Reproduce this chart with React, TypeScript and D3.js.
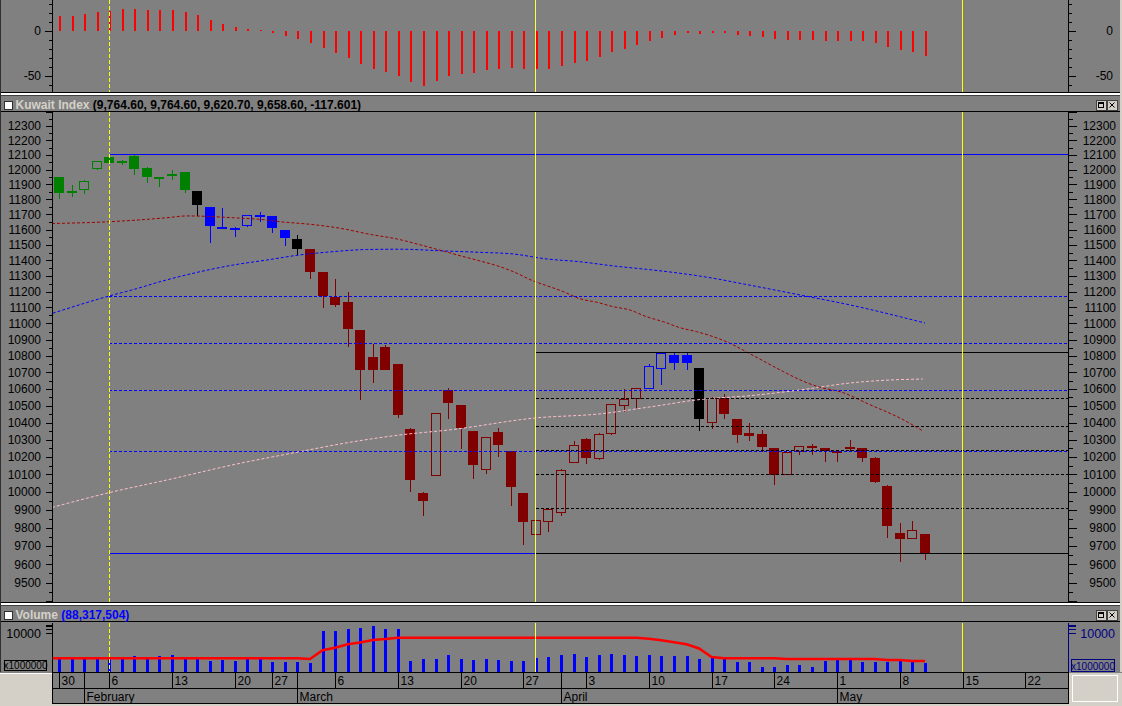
import React from "react";
import * as d3 from "d3";

// ---------- DATA ----------
const opens = [11948, 11850, 11863, 12002, 12084, 12043, 12093, 12011, 11944, 11967,
  11984, 11856, 11747, 11616, 11611, 11622, 11697, 11688, 11595, 11539,
  11474, 11327, 11168, 11133, 10960, 10792, 10855, 10751, 10364, 9996,
  10091, 10591, 10503, 10352, 10126, 10346, 10232, 9994, 9760, 9832,
  9882, 10166, 10306, 10187, 10333, 10501, 10538, 10601, 10723, 10806,
  10806, 10725, 10397, 10548, 10422, 10340, 10334, 10250, 10099, 10228,
  10266, 10250, 10228, 10258, 10250, 10193, 10035, 9772, 9737, 9764.6];
const highs = [11950, 11896, 11930, 12062, 12093, 12066, 12105, 12018, 11952, 11998,
  11986, 11858, 11750, 11743, 11614, 11696, 11714, 11690, 11600, 11563,
  11476, 11327, 11282, 11196, 10962, 10872, 10866, 10752, 10366, 9998,
  10458, 10605, 10505, 10354, 10318, 10370, 10234, 9996, 9845, 9906,
  10133, 10295, 10308, 10338, 10510, 10599, 10606, 10751, 10820, 10823,
  10823, 10727, 10550, 10568, 10424, 10399, 10357, 10252, 10228, 10263,
  10276, 10252, 10238, 10301, 10252, 10201, 10037, 9825, 9836, 9764.6];
const lows = [11800, 11814, 11834, 12000, 12040, 12030, 11966, 11912, 11885, 11930,
  11845, 11690, 11515, 11614, 11554, 11620, 11652, 11580, 11493, 11437,
  11282, 11099, 11100, 10857, 10534, 10636, 10712, 10427, 9998, 9863,
  10089, 10424, 10244, 10072, 10103, 10198, 9923, 9703, 9758, 9774,
  9863, 10164, 10162, 10184, 10330, 10462, 10486, 10599, 10623, 10713,
  10713, 10354, 10365, 10422, 10280, 10291, 10226, 10037, 10095, 10212,
  10210, 10170, 10170, 10232, 10173, 10052, 9742, 9612, 9735, 9620.7];
const closes = [11845, 11855, 11921, 12059, 12043, 12059, 12007, 11952, 11947, 11970,
  11865, 11762, 11626, 11618, 11613, 11694, 11699, 11609, 11547, 11474,
  11327, 11172, 11118, 10968, 10714, 10714, 10714, 10446, 10066, 9947,
  10456, 10517, 10366, 10152, 10316, 10268, 10027, 9830, 9843, 9904,
  10126, 10270, 10193, 10333, 10508, 10542, 10604, 10739, 10817, 10760,
  10760, 10424, 10548, 10453, 10330, 10324, 10256, 10099, 10226, 10261,
  10250, 10236, 10234, 10260, 10195, 10058, 9810, 9735, 9787, 9658.6];
const colorKeys = [
  "g", "g", "g", "g", "g", "g", "g", "g", "g", "g", "g", "k",
  "b", "b", "b", "b", "b", "b", "b", "k",
  "r", "r", "r", "r", "r", "r", "r", "r", "r", "r", "r", "r", "r", "r",
  "r", "r", "r", "r", "r", "r", "r", "r", "r", "r", "r", "r", "r",
  "b", "b", "b", "b", "k",
  "r", "r", "r", "r", "r", "r", "r", "r", "r", "r", "r", "r", "r", "r", "r", "r", "r", "r"];
const lastChange = "-117.601";

// moving averages on price (bar position, value)
const maRedBars = [-0.56, 4.06, 8.58, 10.18, 13.86, 16.55, 17.6, 20, 22.39, 24.78, 26.9, 29.03, 30.62, 31.95, 33.55, 34.88, 36.2, 37.79, 38.86, 40.18, 41.51, 42.84, 44.17, 45.5, 46.83, 48.15, 49.48, 50.81, 52.14, 53.47, 55.06, 57.71, 59.04, 60.64, 62.23, 64.62, 67.01, 68.82];
const maRedVals = [11640, 11652, 11678, 11690, 11678, 11663, 11652, 11635, 11609, 11569, 11539, 11495, 11460, 11430, 11396, 11366, 11327, 11268, 11238, 11200, 11155, 11133, 11105, 11084, 11042, 11011, 10974, 10949, 10918, 10877, 10813, 10705, 10655, 10610, 10584, 10506, 10427, 10352];
const maBlueBars = [-0.5, 3.98, 6.19, 8.05, 11.24, 13.89, 16.55, 19.2, 21.83, 24.5, 27.17, 30.9, 33.55, 36.2, 38.86, 41.51, 44.17, 46.83, 49.48, 52.14, 54.26, 59.04, 63.03, 69];
const maBlueVals = [11064, 11172, 11219, 11263, 11327, 11370, 11402, 11435, 11456, 11470, 11472, 11460, 11452, 11441, 11409, 11391, 11364, 11342, 11317, 11285, 11253, 11179, 11116, 11003];
const maPinkBars = [-0.56, 3.98, 9.08, 13.86, 19.2, 21.83, 27.17, 31.16, 38.01, 43.11, 47.09, 51.08, 55.06, 59.04, 63.03, 66.22, 68.82];
const maPinkVals = [9913, 9996, 10076, 10155, 10231, 10268, 10328, 10358, 10428, 10452, 10493, 10537, 10560, 10594, 10636, 10654, 10660];

// Fibonacci tools
const blueFibStartBar = 4;
const blueFibHigh = 12105;
const blueFibLow = 9658.6;
const blueFibRatios = [0.382, 0.5, 0.618, 0.764];
const blackFibStartBar = 38;
const blackFibHigh = 10823;
const blackFibLow = 9658.6;
const blackFibRatios = [0.236, 0.382, 0.5, 0.618, 0.786];

// oscillator (top panel)
const oscVals = [16.3, 16.3, 18.6, 20.4, 21.5, 24.1, 24.1, 23, 23, 23,
  20.8, 17.4, 11.9, 7.4, 4.1, 1.9, 0.8, -2.6, -5.9, -9.2,
  -13.3, -19.2, -24.8, -30.3, -37, -42.6, -45.9, -50.3, -57, -61.4,
  -55.9, -50.3, -48.1, -47, -43.7, -42.6, -41.4, -42.6, -42, -42.6,
  -38.5, -35.2, -32.9, -28.5, -24, -20.7, -16.3, -11.8, -8.5, -5.2,
  -2.9, -4, -2.9, -2.9, -5.2, -6.3, -7.4, -9.6, -10.7, -10.7,
  -10.7, -11.8, -11.8, -11.8, -11.8, -14, -18.5, -21.8, -24, -27.4];
const oscTicks = [30, 20, 10, 0, -10, -20, -30, -40, -50, -60];
const oscLabels = ["0", "-50"];

// volume (millions)
const volumes = [160, 160, 160, 160, 160, 160, 259, 160, 259, 289,
  160, 160, 121, 136, 121, 160, 160, 94, 94, 103,
  80, 15200, 15200, 19050, 22360, 30870, 19050, 19050, 121, 167,
  167, 289, 167, 136, 167, 136, 121, 121, 178, 210,
  289, 357, 210, 289, 357, 289, 259, 289, 259, 259,
  259, 152, 178, 152, 98, 98, 42, 42, 58, 58,
  42, 116, 136, 136, 98, 98, 98, 116, 116, 88.317504];
const volumeMA = [178.5, 178.5, 178.5, 178.5, 178.5, 178.5, 178.5, 178.5, 178.5, 178.5,
  178.5, 178.5, 178.5, 178.5, 178.5, 178.5, 178.5, 178.5, 178.5, 178.5,
  159.5, 648, 984, 1702, 2274, 3400, 3995, 4923, 4923, 4923,
  4923, 4923, 4923, 4923, 4923, 4923, 4923, 4923, 4923, 4923,
  4923, 4923, 4923, 4923, 4923, 4923, 4923, 4125, 3240, 2348,
  1702, 865, 220, 178.5, 178.5, 178.5, 178.5, 178.5, 159.5, 159.5,
  159.5, 159.5, 159.5, 159.5, 159.5, 159.5, 135.8, 135.8, 115.6, 115.6];
const volTicks = [10000, 20000, 30000, 40000];

// x axis
const dayTickBars = [0, 2, 4, 9, 14, 17, 19, 22, 27, 32, 37, 40, 42, 47, 52, 57, 62, 67, 72, 77];
const dayTickLabels = ["30", "", "6", "13", "20", "27", "", "6", "13", "20", "27", "", "3", "10", "17", "24", "1", "8", "15", "22"];
const monthBars = [2, 19, 40, 62];
const monthLabels = ["February", "March", "April", "May"];

// vertical marker lines (bar positions)
const dashedMarkerBar = 4;
const lightMarkerBar = 38;
const yellowMarkerBar = 72;

// ---------- LAYOUT ----------
const W = 1122, H = 706;
const L = 52.5, R = 1068.5;
const OSC = { top: 0, bottom: 92 };
const MAIN = { top: 112, bottom: 602 };
const VOL = { top: 623, bottom: 672 };
const FONT = "'Liberation Sans', Arial, Helvetica, sans-serif";
const BG = "#808080";
const palette: Record<string, string> = { g: "#008000", b: "#0000ff", k: "#000000", r: "#800000" };

function Header({ top, title, value, valueColor }: { top: number; title: string; value: string; valueColor: string }) {
  return (
    <g>
      <rect x={0} y={top - 4} width={W} height={1} fill="#000" />
      <rect x={0} y={top - 3} width={W} height={2} fill="#ffffff" />
      <rect x={0} y={top - 1} width={W} height={1} fill="#404040" />
      <rect x={1} y={top} width={W - 3} height={15} fill={BG} />
      <rect x={0} y={top + 15} width={W} height={1} fill="#000" />
      <rect x={4.5} y={top + 5.5} width={8} height={8} fill="#fff" stroke="#303030" />
      <text x={15.5} y={top + 13} fontSize={12} fontWeight="bold" fontFamily={FONT}>
        <tspan fill="#d4d0c8">{title}</tspan>
        <tspan fill={valueColor}>{" " + value}</tspan>
      </text>
      <g shapeRendering="crispEdges">
        <rect x={1096} y={top + 4} width={10} height={10} fill="#d4d0c8" stroke="#404040" />
        <rect x={1098.5} y={top + 6.5} width={5} height={5} fill="none" stroke="#000" />
        <rect x={1098} y={top + 6} width={6} height={2} fill="#000" />
        <rect x={1107} y={top + 4} width={10} height={10} fill="#d4d0c8" stroke="#404040" />
      </g>
      <line x1={1109.5} y1={top + 6.5} x2={1114.5} y2={top + 11.5} stroke="#000" />
      <line x1={1114.5} y1={top + 6.5} x2={1109.5} y2={top + 11.5} stroke="#000" />
    </g>
  );
}

export default function App() {
  const x = d3.scaleLinear().domain([0, 69]).range([59, 925]);
  const yM = d3.scaleLog().domain([9500, 12300]).range([582.7, 126]);
  const yO = d3.scaleLinear().domain([0, -50]).range([30.7, 76]);
  const yV = d3.scaleLog().domain([19.7, 10000]).range([672, 633.3]);
  const px = (i: number) => Math.round(x(i)) + 0.5;
  const mx = (i: number) => Math.floor(x(i)) + 0.5;

  const fmt2 = d3.format(",.2f");
  const n = closes.length - 1;
  const headerValue = `(${fmt2(opens[n])}, ${fmt2(highs[n])}, ${fmt2(lows[n])}, ${fmt2(closes[n])}, ${lastChange})`;
  const volValue = `(${d3.format(",")(Math.round(volumes[n] * 1e6))})`;

  const maLine = d3.line<[number, number]>().x((d) => x(d[0])).y((d) => yM(d[1])).curve(d3.curveMonotoneX);
  const redPath = maLine(maRedBars.map((b, i) => [b, maRedVals[i]]) as [number, number][]) || "";
  const bluePath = maLine(maBlueBars.map((b, i) => [b, maBlueVals[i]]) as [number, number][]) || "";
  const pinkPath = maLine(maPinkBars.map((b, i) => [b, maPinkVals[i]]) as [number, number][]) || "";

  const volLine = d3.line<[number, number]>().x((d) => d[0]).y((d) => yV(d[1]));
  const volPts: [number, number][] = [[L, volumeMA[0]], ...volumeMA.map((v, i) => [x(i), v] as [number, number])];
  const volPath = volLine(volPts) || "";

  const mainTicks = d3.range(9400, 12401, 50);
  const mainLabels = d3.range(9500, 12301, 100);

  const candles = opens.map((o, i) => {
    const c = closes[i];
    const col = palette[colorKeys[i]];
    const cx = Math.round(x(i));
    const yOpen = yM(o), yClose = yM(c), yHi = Math.round(yM(highs[i])), yLo = Math.round(yM(lows[i]));
    const top = Math.round(Math.min(yOpen, yClose));
    const bot = Math.round(Math.max(yOpen, yClose));
    const bh = Math.max(1, bot - top);
    if (c > o) {
      return (
        <g key={i}>
          <line x1={cx + 0.5} x2={cx + 0.5} y1={yHi} y2={top} stroke={col} />
          <line x1={cx + 0.5} x2={cx + 0.5} y1={top + bh} y2={yLo} stroke={col} />
          <rect x={cx - 4.5} y={top + 0.5} width={9} height={Math.max(0.5, bh - 1)} fill="none" stroke={col} />
        </g>
      );
    }
    return (
      <g key={i}>
        <line x1={cx + 0.5} x2={cx + 0.5} y1={yHi} y2={yLo} stroke={col} />
        <rect x={cx - 5} y={top} width={10} height={bh} fill={col} />
      </g>
    );
  });

  const vMarkers = (y1: number, y2: number) => (
    <g>
      <line x1={mx(dashedMarkerBar)} x2={mx(dashedMarkerBar)} y1={y1} y2={y2} stroke="#ffff00" strokeDasharray="4,2" />
      <line x1={mx(lightMarkerBar)} x2={mx(lightMarkerBar)} y1={y1} y2={y2} stroke="#ffff40" />
      <line x1={mx(yellowMarkerBar)} x2={mx(yellowMarkerBar)} y1={y1} y2={y2} stroke="#ffff00" />
    </g>
  );

  return (
    <svg width={W} height={H} style={{ position: "absolute", left: 0, top: 0, display: "block" }} fontFamily={FONT}>
      <defs>
        <clipPath id="clipMain"><rect x={L + 0.5} y={MAIN.top} width={R - L - 1} height={MAIN.bottom - MAIN.top} /></clipPath>
        <clipPath id="clipVol"><rect x={L + 0.5} y={VOL.top} width={R - L - 1} height={VOL.bottom - VOL.top} /></clipPath>
        <clipPath id="clipOsc"><rect x={L + 0.5} y={OSC.top} width={R - L - 1} height={OSC.bottom - OSC.top} /></clipPath>
      </defs>
      <rect x={0} y={0} width={W} height={H} fill={BG} />

      {/* ---------- OSCILLATOR PANEL ---------- */}
      <g clipPath="url(#clipOsc)" shapeRendering="crispEdges">
        {oscVals.map((v, i) => {
          const y0 = yO(0), y1 = yO(v);
          return <rect key={i} x={Math.round(x(i))} y={Math.min(y0, y1)} width={2} height={Math.max(1, Math.abs(y1 - y0))} fill="#ff0000" />;
        })}
        {vMarkers(OSC.top, OSC.bottom)}
      </g>
      <g shapeRendering="crispEdges" stroke="#000">
        <line x1={L} x2={L} y1={OSC.top} y2={OSC.bottom} />
        <line x1={R} x2={R} y1={OSC.top} y2={OSC.bottom} />
        {oscTicks.map((t) => {
          const y = Math.round(yO(t)) + 0.5;
          const major = t % 50 === 0;
          return (
            <g key={t}>
              <line x1={major ? 45 : 49} x2={L} y1={y} y2={y} />
              <line x1={R} x2={major ? 1076 : 1072} y1={y} y2={y} />
            </g>
          );
        })}
      </g>
      {oscLabels.map((t) => (
        <g key={t} fontSize={12} fill="#000">
          <text x={41} y={yO(+t)} dy="0.36em" textAnchor="end">{t}</text>
          <text x={1113} y={yO(+t)} dy="0.36em" textAnchor="end">{t}</text>
        </g>
      ))}

      {/* ---------- MAIN HEADER ---------- */}
      <Header top={96} title="Kuwait Index" value={headerValue} valueColor="#000000" />

      {/* ---------- MAIN PANEL ---------- */}
      <g clipPath="url(#clipMain)">
        <g shapeRendering="crispEdges">{candles}</g>
        <path d={pinkPath} fill="none" stroke="#ffc0cb" strokeDasharray="3,2" />
        <path d={bluePath} fill="none" stroke="#0000ff" strokeDasharray="3,2" />
        <path d={redPath} fill="none" stroke="#a00000" strokeDasharray="3,2" />
        <g shapeRendering="crispEdges">
          {blueFibRatios.map((r) => {
            const y = Math.round(yM(blueFibHigh - r * (blueFibHigh - blueFibLow))) + 0.5;
            return <line key={"bf" + r} x1={x(blueFibStartBar)} x2={R} y1={y} y2={y} stroke="#0000ff" strokeDasharray="3,2" />;
          })}
          {[blueFibHigh, blueFibLow].map((v) => {
            const y = Math.round(yM(v)) + 0.5;
            return <line key={"bs" + v} x1={x(blueFibStartBar)} x2={R} y1={y} y2={y} stroke="#0000ff" />;
          })}
          {blackFibRatios.map((r) => {
            const y = Math.round(yM(blackFibHigh - r * (blackFibHigh - blackFibLow))) + 0.5;
            return <line key={"kf" + r} x1={x(blackFibStartBar)} x2={R} y1={y} y2={y} stroke="#000" strokeDasharray="3,2" />;
          })}
          {[blackFibHigh, blackFibLow].map((v) => {
            const y = Math.round(yM(v)) + 0.5;
            return <line key={"ks" + v} x1={x(blackFibStartBar)} x2={R} y1={y} y2={y} stroke="#000" />;
          })}
          {vMarkers(MAIN.top, MAIN.bottom)}
        </g>
      </g>
      <g shapeRendering="crispEdges" stroke="#000">
        <line x1={L} x2={L} y1={MAIN.top} y2={MAIN.bottom} />
        <line x1={R} x2={R} y1={MAIN.top} y2={MAIN.bottom} />
        {mainTicks.map((t) => {
          const y = Math.round(yM(t)) + 0.5;
          if (y < MAIN.top || y > MAIN.bottom) return null;
          const major = t % 100 === 0;
          return (
            <g key={t}>
              <line x1={major ? 46 : 49} x2={L} y1={y} y2={y} />
              <line x1={R} x2={major ? 1077 : 1073} y1={y} y2={y} />
            </g>
          );
        })}
      </g>
      <g fontSize={12} fill="#000">
        {mainLabels.map((t) => (
          <g key={t}>
            <text x={41} y={yM(t)} dy="0.36em" textAnchor="end">{t}</text>
            <text x={1116} y={yM(t)} dy="0.36em" textAnchor="end">{t}</text>
          </g>
        ))}
      </g>

      {/* ---------- VOLUME HEADER ---------- */}
      <Header top={606} title="Volume" value={volValue} valueColor="#0000ff" />

      {/* ---------- VOLUME PANEL ---------- */}
      <g clipPath="url(#clipVol)">
        <g shapeRendering="crispEdges">
          {volumes.map((v, i) => (
            <rect key={i} x={Math.round(x(i)) - 1} y={yV(v)} width={3} height={VOL.bottom - yV(v)} fill="#0000ff" />
          ))}
        </g>
        <path d={volPath} fill="none" stroke="#ff0000" strokeWidth={2.6} />
        <g shapeRendering="crispEdges">{vMarkers(VOL.top, VOL.bottom)}</g>
      </g>
      <g shapeRendering="crispEdges">
        <line x1={L} x2={L} y1={VOL.top} y2={VOL.bottom} stroke="#000" />
        <line x1={R} x2={R} y1={VOL.top} y2={VOL.bottom} stroke="#000080" />
        {volTicks.map((t) => {
          const y = Math.round(yV(t)) + 0.5;
          return (
            <g key={t}>
              <line x1={46} x2={L} y1={y} y2={y} stroke="#000" />
              <line x1={R} x2={1076} y1={y} y2={y} stroke="#000080" />
            </g>
          );
        })}
        <rect x={4.5} y={660.5} width={42} height={10} fill="none" stroke="#000" />
        <rect x={1071.5} y={659.5} width={43} height={12} fill="none" stroke="#000080" />
      </g>
      <text x={41} y={yV(10000)} dy="0.36em" textAnchor="end" fontSize={12.5} fill="#000">10000</text>
      <text x={1115} y={yV(10000)} dy="0.36em" textAnchor="end" fontSize={12.5} fill="#000080">10000</text>
      <text x={25.5} y={669} textAnchor="middle" fontSize={10} fill="#000">x1000000</text>
      <text x={1093} y={669.5} textAnchor="middle" fontSize={10} fill="#000080">x1000000</text>

      {/* ---------- X AXIS ---------- */}
      <g shapeRendering="crispEdges">
        <line x1={L} x2={R} y1={672.5} y2={672.5} stroke="#000" />
        <line x1={L} x2={R} y1={688.5} y2={688.5} stroke="#000" />
        <line x1={L} x2={R} y1={703.5} y2={703.5} stroke="#000" />
        <rect x={0} y={704} width={W} height={2} fill="#d4d0c8" />
        <line x1={L} x2={L} y1={672} y2={704} stroke="#000" />
        <line x1={R} x2={R} y1={672} y2={704} stroke="#000" />
        {dayTickBars.map((b, i) => {
          const xx = px(b);
          if (xx > R) return null;
          const isMonth = monthBars.includes(b);
          return <line key={"dt" + i} x1={xx} x2={xx} y1={672} y2={isMonth ? 704 : 688} stroke="#000" />;
        })}
        <rect x={0} y={673} width={52} height={33} fill="#d4d0c8" />
        <line x1={0} x2={52} y1={673.5} y2={673.5} stroke="#ffffff" />
        <rect x={1069} y={673} width={53} height={33} fill="#d4d0c8" />
        <rect x={1072.5} y={675.5} width={45} height={26} fill="none" stroke="#ffffff" />
      </g>
      <g fontSize={12} fill="#000">
        {dayTickBars.map((b, i) =>
          dayTickLabels[i] ? (
            <text key={"dl" + i} x={px(b) + 2} y={685}>{dayTickLabels[i]}</text>
          ) : null
        )}
        {monthBars.map((b, i) => (
          <text key={"ml" + i} x={px(b) + 2} y={700.5}>{monthLabels[i]}</text>
        ))}
      </g>

      {/* frame edges */}
      <g shapeRendering="crispEdges">
        <rect x={0} y={0} width={1} height={672} fill="#303030" />
        <rect x={1120} y={0} width={2} height={672} fill="#d4d0c8" />
      </g>
    </svg>
  );
}
